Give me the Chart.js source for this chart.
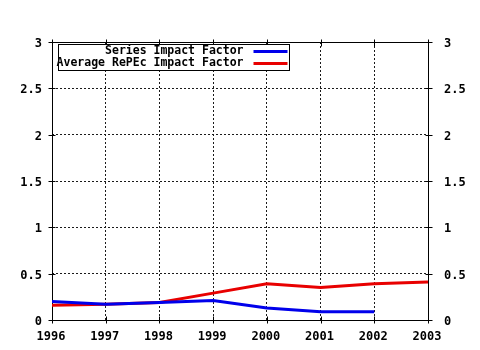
<!DOCTYPE html>
<html>
<head>
<meta charset="utf-8">
<script src="https://cdn.jsdelivr.net/npm/chart.js@4/dist/chart.umd.min.js"></script>
<style>
html,body{margin:0;padding:0;background:#fff}
canvas{display:block}
</style>
</head>
<body>
<canvas id="c" width="480" height="350"></canvas>
<script>
const years = [1996, 1997, 1998, 1999, 2000, 2001, 2002, 2003];
const seriesImpact = [0.20, 0.17, 0.19, 0.21, 0.13, 0.09, 0.09, null];
const repecImpact = [0.16, 0.17, 0.19, 0.29, 0.39, 0.35, 0.39, 0.41];
const seriesLabels = ['Series Impact Factor', 'Average RePEc Impact Factor'];
const seriesColors = ['rgb(0,0,235)', 'rgb(232,0,0)'];

const FONT = "'DejaVu Sans Mono', 'Liberation Mono', monospace";

function points(vals) {
  return years.map((y, i) => ({ x: y, y: vals[i] })).filter(p => p.y !== null);
}

// Solid border around the plot plus small tick marks crossing every edge
const framePlugin = {
  id: 'frame',
  beforeDatasetsDraw(chart) {
    const { ctx, chartArea: a, scales } = chart;
    ctx.save();
    ctx.strokeStyle = '#000';
    ctx.lineWidth = 1;
    ctx.setLineDash([]);
    const L = Math.round(a.left) + 0.5, R = Math.round(a.right) + 0.5;
    const T = Math.round(a.top) + 0.5, B = Math.round(a.bottom) + 0.5;
    ctx.strokeRect(L, T, R - L, B - T);
    ctx.beginPath();
    scales.x.ticks.forEach(t => {
      const px = Math.round(scales.x.getPixelForValue(t.value)) + 0.5;
      ctx.moveTo(px, B + 3); ctx.lineTo(px, B - 4);
      ctx.moveTo(px, T - 3); ctx.lineTo(px, T + 4);
    });
    scales.y.ticks.forEach(t => {
      const py = Math.round(scales.y.getPixelForValue(t.value)) + 0.5;
      ctx.moveTo(L - 4, py); ctx.lineTo(L + 3, py);
      ctx.moveTo(R + 4, py); ctx.lineTo(R - 3, py);
    });
    ctx.stroke();
    ctx.restore();
  },
  afterDatasetsDraw(chart) {
    const { ctx, chartArea: a } = chart;
    const bx = Math.round(a.left) + 6.5, by = Math.round(a.top) + 2.5;
    const bw = 231, bh = 26;
    ctx.save();
    ctx.fillStyle = '#fff';
    ctx.fillRect(bx, by, bw, bh);
    ctx.strokeStyle = '#000';
    ctx.lineWidth = 1;
    ctx.strokeRect(bx, by, bw, bh);
    ctx.font = 'bold 11.5px ' + FONT;
    ctx.textAlign = 'right';
    ctx.textBaseline = 'middle';
    chart.data.datasets.forEach((ds, i) => {
      const cy = by + 7 + i * 12;
      ctx.fillStyle = '#000';
      ctx.fillText(ds.label, bx + 185, cy);
      ctx.strokeStyle = ds.borderColor;
      ctx.lineWidth = 3;
      ctx.beginPath();
      ctx.moveTo(bx + 195, cy);
      ctx.lineTo(bx + 229, cy);
      ctx.stroke();
    });
    ctx.restore();
  }
};

const gridDash = [2, 2];
const tickFont = { family: FONT, size: 12, weight: 'bold' };

new Chart(document.getElementById('c'), {
  type: 'line',
  data: {
    datasets: [
      {
        label: seriesLabels[0],
        data: points(seriesImpact),
        borderColor: seriesColors[0],
        borderWidth: 3,
        pointRadius: 0,
        tension: 0,
        fill: false
      },
      {
        label: seriesLabels[1],
        data: points(repecImpact),
        borderColor: seriesColors[1],
        borderWidth: 3,
        pointRadius: 0,
        tension: 0,
        fill: false
      }
    ]
  },
  options: {
    responsive: false,
    animation: false,
    layout: { padding: { top: 42, left: 0, right: 0, bottom: 0 } },
    plugins: { legend: { display: false }, tooltip: { enabled: false } },
    scales: {
      x: {
        type: 'linear',
        min: years[0],
        max: years[years.length - 1],
        afterFit: s => { s.height = 30; },
        afterBuildTicks: s => { s.ticks = years.map(v => ({ value: v })); },
        ticks: {
          color: '#000',
          padding: 10,
          labelOffset: -1,
          maxRotation: 0,
          font: tickFont,
          callback: v => String(v)
        },
        grid: { color: '#1a1a1a', lineWidth: 1, drawTicks: false, borderDash: gridDash },
        border: { display: false, dash: gridDash }
      },
      y: {
        position: 'left',
        min: 0,
        max: 3,
        afterFit: s => { s.width = 52; },
        ticks: {
          stepSize: 0.5,
          color: '#000',
          padding: 10,
          labelOffset: 2,
          font: tickFont,
          callback: v => String(v)
        },
        grid: { color: '#1a1a1a', lineWidth: 1, drawTicks: false, borderDash: gridDash },
        border: { display: false, dash: gridDash }
      },
      y2: {
        position: 'right',
        min: 0,
        max: 3,
        afterFit: s => { s.width = 52; },
        ticks: {
          stepSize: 0.5,
          color: '#000',
          padding: 16,
          labelOffset: 2,
          font: tickFont,
          callback: v => String(v)
        },
        grid: { display: false, drawTicks: false },
        border: { display: false }
      }
    }
  },
  plugins: [framePlugin]
});
</script>
</body>
</html>
